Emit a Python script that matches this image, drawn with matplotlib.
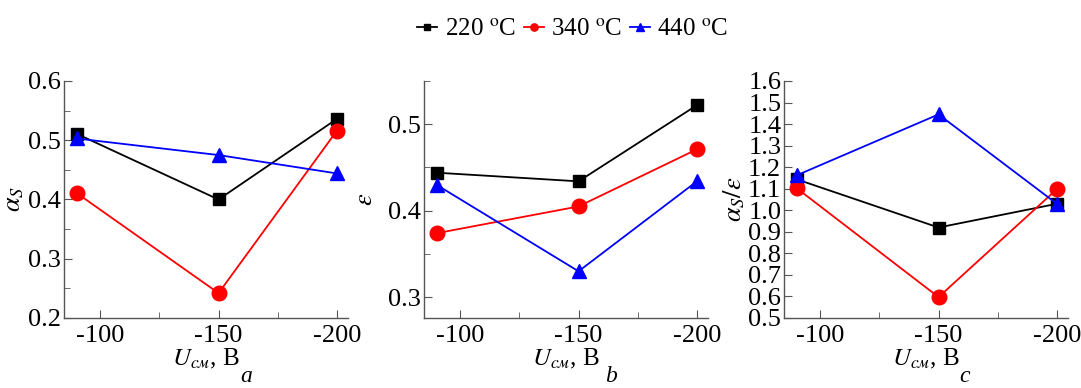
import matplotlib.pyplot as plt
from matplotlib.ticker import MultipleLocator

plt.rcParams['font.family'] = ['Liberation Serif', 'DejaVu Serif']
plt.rcParams['mathtext.fontset'] = 'stix'
plt.rcParams['axes.unicode_minus'] = False

# напряжение смещения, В
u_bias = [-90, -150, -200]
temps = ['220', '340', '440']

# a: alpha_s
alpha_s = {
    '220': [0.511, 0.400, 0.536],
    '340': [0.411, 0.242, 0.516],
    '440': [0.503, 0.475, 0.444],
}
# b: epsilon
eps = {
    '220': [0.444, 0.434, 0.522],
    '340': [0.374, 0.405, 0.471],
    '440': [0.430, 0.330, 0.434],
}
# c: alpha_s / epsilon
ratio = {
    '220': [1.144, 0.920, 1.030],
    '340': [1.103, 0.597, 1.098],
    '440': [1.162, 1.445, 1.030],
}

styles = {
    '220': dict(color='black', marker='s', ms=8.5),
    '340': dict(color='red', marker='o', ms=10.5),
    '440': dict(color='blue', marker='^', ms=10.5),
}

fig = plt.figure(figsize=(10.81, 3.88), dpi=100)
W, H = 1081, 388
boxes = [(64, 348), (424, 708), (784, 1068)]
top, bottom = 81, 318

panels = [
    (alpha_s, r'$\alpha_S$', (0.2, 0.6), 0.1, 0.05, 'a', -0.135, 0.64),
    (eps, r'$\varepsilon$', (0.276, 0.55), 0.1, 0.05, 'b', -0.165, 0.66),
    (ratio, r'$\alpha_S/\varepsilon$', (0.5, 1.6), 0.1, None, 'c', -0.13, 0.635),
]

axes = []
for (x0, x1), (data, ylab, ylim, maj, mnr, letter, lx, tx) in zip(boxes, panels):
    ax = fig.add_axes([x0 / W, 1 - bottom / H, (x1 - x0) / W, (bottom - top) / H])
    for t in temps:
        st = styles[t]
        ax.plot(u_bias, data[t], color=st['color'], marker=st['marker'],
                markersize=st['ms'], lw=1.3, label=t + r' $^{\rm o}$C', clip_on=False)
    ax.set_xlim(-84.7, -204.7)
    ax.set_ylim(*ylim)
    ax.xaxis.set_major_locator(MultipleLocator(50))
    ax.xaxis.set_minor_locator(MultipleLocator(25))
    ax.yaxis.set_major_locator(MultipleLocator(maj))
    if mnr:
        ax.yaxis.set_minor_locator(MultipleLocator(mnr))
    ax.spines['top'].set_visible(False)
    ax.spines['right'].set_visible(False)
    for s in ('left', 'bottom'):
        ax.spines[s].set_color('#555555')
        ax.spines[s].set_linewidth(1.0)
    ax.tick_params(which='both', direction='in', labelsize=19, color='#555555')
    ax.tick_params(which='major', length=6)
    ax.tick_params(which='minor', length=4)
    ax.tick_params(axis='x', pad=5)
    ax.tick_params(axis='y', pad=2)
    ax.set_xlabel(r'$\mathit{U_{см}}$, В', fontsize=18, labelpad=0)
    ax.set_ylabel(ylab, fontsize=19, labelpad=0)
    ax.yaxis.set_label_coords(lx, 0.5)
    ax.text(tx, -(387 - bottom) / (bottom - top), letter, transform=ax.transAxes,
            fontsize=17, style='italic', ha='center', va='bottom')
    axes.append(ax)

handles, labels = axes[0].get_legend_handles_labels()
fig.legend(handles, labels, loc='upper center', bbox_to_anchor=(0.53, 1.01),
           ncol=3, frameon=False, fontsize=18, handlelength=0.8,
           handletextpad=0.3, columnspacing=0.3, markerscale=0.5)

fig.savefig('out.png', dpi=100)
